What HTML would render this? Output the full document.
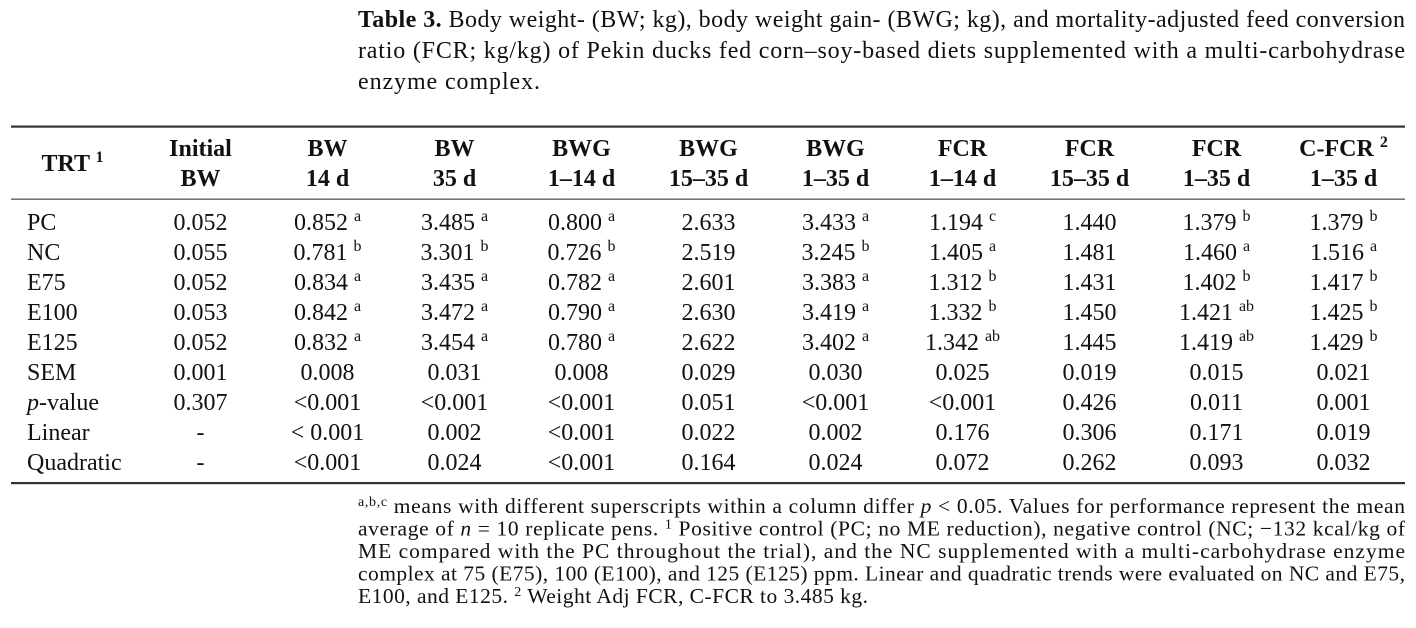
<!DOCTYPE html>
<html>
<head>
<meta charset="utf-8">
<style>
  html, body { margin:0; padding:0; background:#fff; }
  svg { display:block; }
  text { font-family: "Liberation Serif", "DejaVu Serif", serif; fill:#111; }
</style>
</head>
<body>
<svg width="1416" height="628" viewBox="0 0 1416 628" xmlns="http://www.w3.org/2000/svg">
  <!-- Caption -->
  <text x="358" y="27" font-size="24" textLength="1047" lengthAdjust="spacing"><tspan font-weight="bold">Table 3.</tspan> Body weight- (BW; kg), body weight gain- (BWG; kg), and mortality-adjusted feed conversion</text>
  <text x="358" y="58" font-size="24" textLength="1047" lengthAdjust="spacing">ratio (FCR; kg/kg) of Pekin ducks fed corn–soy-based diets supplemented with a multi-carbohydrase</text>
  <text x="358" y="89" font-size="24" textLength="182" lengthAdjust="spacing">enzyme complex.</text>

  <!-- Rules -->
  <rect x="11" y="125.5" width="1394" height="2.2" fill="#333"/>
  <rect x="11" y="198.5" width="1394" height="1.3" fill="#555"/>
  <rect x="11" y="482" width="1394" height="2.2" fill="#333"/>

  <!-- Header -->
  <g font-size="24" font-weight="bold" text-anchor="middle">
    <text x="72.5" y="171">TRT <tspan font-size="16" dy="-9">1</tspan></text>
    <text x="200.5" y="156">Initial</text><text x="200.5" y="186">BW</text>
    <text x="327.5" y="156">BW</text><text x="327.5" y="186">14 d</text>
    <text x="454.5" y="156">BW</text><text x="454.5" y="186">35 d</text>
    <text x="581.5" y="156">BWG</text><text x="581.5" y="186">1–14 d</text>
    <text x="708.5" y="156">BWG</text><text x="708.5" y="186">15–35 d</text>
    <text x="835.5" y="156">BWG</text><text x="835.5" y="186">1–35 d</text>
    <text x="962.5" y="156">FCR</text><text x="962.5" y="186">1–14 d</text>
    <text x="1089.5" y="156">FCR</text><text x="1089.5" y="186">15–35 d</text>
    <text x="1216.5" y="156">FCR</text><text x="1216.5" y="186">1–35 d</text>
    <text x="1343.5" y="156">C-FCR <tspan font-size="16" dy="-9">2</tspan></text><text x="1343.5" y="186">1–35 d</text>
  </g>

  <!-- Row labels -->
  <g font-size="24">
    <text x="27" y="230">PC</text>
    <text x="27" y="260">NC</text>
    <text x="27" y="290">E75</text>
    <text x="27" y="320">E100</text>
    <text x="27" y="350">E125</text>
    <text x="27" y="380">SEM</text>
    <text x="27" y="410"><tspan font-style="italic">p</tspan>-value</text>
    <text x="27" y="440">Linear</text>
    <text x="27" y="470">Quadratic</text>
  </g>

  <!-- Data -->
  <g font-size="24" text-anchor="middle">
    <!-- PC -->
    <text x="200.5" y="230">0.052</text>
    <text x="327.5" y="230">0.852 <tspan font-size="16" dy="-9">a</tspan></text>
    <text x="454.5" y="230">3.485 <tspan font-size="16" dy="-9">a</tspan></text>
    <text x="581.5" y="230">0.800 <tspan font-size="16" dy="-9">a</tspan></text>
    <text x="708.5" y="230">2.633</text>
    <text x="835.5" y="230">3.433 <tspan font-size="16" dy="-9">a</tspan></text>
    <text x="962.5" y="230">1.194 <tspan font-size="16" dy="-9">c</tspan></text>
    <text x="1089.5" y="230">1.440</text>
    <text x="1216.5" y="230">1.379 <tspan font-size="16" dy="-9">b</tspan></text>
    <text x="1343.5" y="230">1.379 <tspan font-size="16" dy="-9">b</tspan></text>
    <!-- NC -->
    <text x="200.5" y="260">0.055</text>
    <text x="327.5" y="260">0.781 <tspan font-size="16" dy="-9">b</tspan></text>
    <text x="454.5" y="260">3.301 <tspan font-size="16" dy="-9">b</tspan></text>
    <text x="581.5" y="260">0.726 <tspan font-size="16" dy="-9">b</tspan></text>
    <text x="708.5" y="260">2.519</text>
    <text x="835.5" y="260">3.245 <tspan font-size="16" dy="-9">b</tspan></text>
    <text x="962.5" y="260">1.405 <tspan font-size="16" dy="-9">a</tspan></text>
    <text x="1089.5" y="260">1.481</text>
    <text x="1216.5" y="260">1.460 <tspan font-size="16" dy="-9">a</tspan></text>
    <text x="1343.5" y="260">1.516 <tspan font-size="16" dy="-9">a</tspan></text>
    <!-- E75 -->
    <text x="200.5" y="290">0.052</text>
    <text x="327.5" y="290">0.834 <tspan font-size="16" dy="-9">a</tspan></text>
    <text x="454.5" y="290">3.435 <tspan font-size="16" dy="-9">a</tspan></text>
    <text x="581.5" y="290">0.782 <tspan font-size="16" dy="-9">a</tspan></text>
    <text x="708.5" y="290">2.601</text>
    <text x="835.5" y="290">3.383 <tspan font-size="16" dy="-9">a</tspan></text>
    <text x="962.5" y="290">1.312 <tspan font-size="16" dy="-9">b</tspan></text>
    <text x="1089.5" y="290">1.431</text>
    <text x="1216.5" y="290">1.402 <tspan font-size="16" dy="-9">b</tspan></text>
    <text x="1343.5" y="290">1.417 <tspan font-size="16" dy="-9">b</tspan></text>
    <!-- E100 -->
    <text x="200.5" y="320">0.053</text>
    <text x="327.5" y="320">0.842 <tspan font-size="16" dy="-9">a</tspan></text>
    <text x="454.5" y="320">3.472 <tspan font-size="16" dy="-9">a</tspan></text>
    <text x="581.5" y="320">0.790 <tspan font-size="16" dy="-9">a</tspan></text>
    <text x="708.5" y="320">2.630</text>
    <text x="835.5" y="320">3.419 <tspan font-size="16" dy="-9">a</tspan></text>
    <text x="962.5" y="320">1.332 <tspan font-size="16" dy="-9">b</tspan></text>
    <text x="1089.5" y="320">1.450</text>
    <text x="1216.5" y="320">1.421 <tspan font-size="16" dy="-9">ab</tspan></text>
    <text x="1343.5" y="320">1.425 <tspan font-size="16" dy="-9">b</tspan></text>
    <!-- E125 -->
    <text x="200.5" y="350">0.052</text>
    <text x="327.5" y="350">0.832 <tspan font-size="16" dy="-9">a</tspan></text>
    <text x="454.5" y="350">3.454 <tspan font-size="16" dy="-9">a</tspan></text>
    <text x="581.5" y="350">0.780 <tspan font-size="16" dy="-9">a</tspan></text>
    <text x="708.5" y="350">2.622</text>
    <text x="835.5" y="350">3.402 <tspan font-size="16" dy="-9">a</tspan></text>
    <text x="962.5" y="350">1.342 <tspan font-size="16" dy="-9">ab</tspan></text>
    <text x="1089.5" y="350">1.445</text>
    <text x="1216.5" y="350">1.419 <tspan font-size="16" dy="-9">ab</tspan></text>
    <text x="1343.5" y="350">1.429 <tspan font-size="16" dy="-9">b</tspan></text>
    <!-- SEM -->
    <text x="200.5" y="380">0.001</text>
    <text x="327.5" y="380">0.008</text>
    <text x="454.5" y="380">0.031</text>
    <text x="581.5" y="380">0.008</text>
    <text x="708.5" y="380">0.029</text>
    <text x="835.5" y="380">0.030</text>
    <text x="962.5" y="380">0.025</text>
    <text x="1089.5" y="380">0.019</text>
    <text x="1216.5" y="380">0.015</text>
    <text x="1343.5" y="380">0.021</text>
    <!-- p-value -->
    <text x="200.5" y="410">0.307</text>
    <text x="327.5" y="410">&lt;0.001</text>
    <text x="454.5" y="410">&lt;0.001</text>
    <text x="581.5" y="410">&lt;0.001</text>
    <text x="708.5" y="410">0.051</text>
    <text x="835.5" y="410">&lt;0.001</text>
    <text x="962.5" y="410">&lt;0.001</text>
    <text x="1089.5" y="410">0.426</text>
    <text x="1216.5" y="410">0.011</text>
    <text x="1343.5" y="410">0.001</text>
    <!-- Linear -->
    <text x="200.5" y="440">-</text>
    <text x="327.5" y="440">&lt; 0.001</text>
    <text x="454.5" y="440">0.002</text>
    <text x="581.5" y="440">&lt;0.001</text>
    <text x="708.5" y="440">0.022</text>
    <text x="835.5" y="440">0.002</text>
    <text x="962.5" y="440">0.176</text>
    <text x="1089.5" y="440">0.306</text>
    <text x="1216.5" y="440">0.171</text>
    <text x="1343.5" y="440">0.019</text>
    <!-- Quadratic -->
    <text x="200.5" y="470">-</text>
    <text x="327.5" y="470">&lt;0.001</text>
    <text x="454.5" y="470">0.024</text>
    <text x="581.5" y="470">&lt;0.001</text>
    <text x="708.5" y="470">0.164</text>
    <text x="835.5" y="470">0.024</text>
    <text x="962.5" y="470">0.072</text>
    <text x="1089.5" y="470">0.262</text>
    <text x="1216.5" y="470">0.093</text>
    <text x="1343.5" y="470">0.032</text>
  </g>

  <!-- Footnotes -->
  <g font-size="21.5">
    <text x="358" y="513" textLength="1047" lengthAdjust="spacing"><tspan font-size="14" dy="-7">a,b,c</tspan><tspan dy="7"> means with different superscripts within a column differ </tspan><tspan font-style="italic">p</tspan> &lt; 0.05. Values for performance represent the mean</text>
    <text x="358" y="535.5" textLength="1047" lengthAdjust="spacing">average of <tspan font-style="italic">n</tspan> = 10 replicate pens. <tspan font-size="14" dy="-7">1</tspan><tspan dy="7"> Positive control (PC; no ME reduction), negative control (NC; −132 kcal/kg of</tspan></text>
    <text x="358" y="558" textLength="1047" lengthAdjust="spacing">ME compared with the PC throughout the trial), and the NC supplemented with a multi-carbohydrase enzyme</text>
    <text x="358" y="580.5" textLength="1047" lengthAdjust="spacing">complex at 75 (E75), 100 (E100), and 125 (E125) ppm. Linear and quadratic trends were evaluated on NC and E75,</text>
    <text x="358" y="603" textLength="510" lengthAdjust="spacing">E100, and E125. <tspan font-size="14" dy="-7">2</tspan><tspan dy="7"> Weight Adj FCR, C-FCR to 3.485 kg.</tspan></text>
  </g>
</svg>
</body>
</html>
